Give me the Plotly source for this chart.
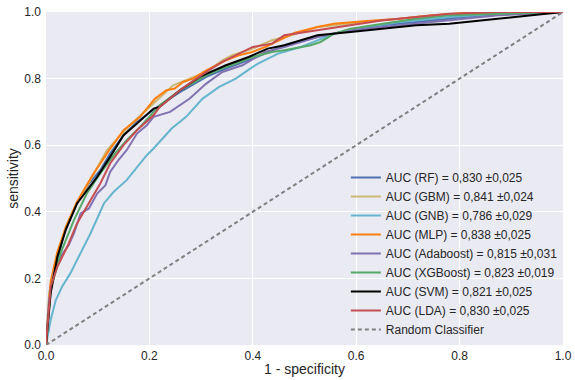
import plotly.graph_objects as go

# ROC curves (fpr, tpr)
rf_x = [0, 0.009, 0.035, 0.06, 0.083, 0.105, 0.124, 0.15, 0.176, 0.208, 0.22, 0.265, 0.31, 0.348, 0.4, 0.461, 0.525, 0.589, 0.652, 0.716, 0.811, 0.907, 1.0]
rf_y = [0, 0.175, 0.335, 0.425, 0.485, 0.525, 0.575, 0.63, 0.67, 0.705, 0.72, 0.765, 0.805, 0.83, 0.86, 0.90, 0.925, 0.945, 0.96, 0.97, 0.985, 0.995, 1.0]

gbm_x = [0, 0.006, 0.019, 0.038, 0.06, 0.092, 0.118, 0.144, 0.176, 0.208, 0.246, 0.31, 0.341, 0.36, 0.40, 0.437, 0.475, 0.525, 0.589, 0.652, 0.75, 0.85, 1.0]
gbm_y = [0, 0.155, 0.255, 0.355, 0.425, 0.515, 0.585, 0.63, 0.68, 0.725, 0.78, 0.82, 0.855, 0.87, 0.89, 0.915, 0.93, 0.955, 0.965, 0.975, 0.99, 0.997, 1.0]

gnb_x = [0, 0.009, 0.019, 0.031, 0.047, 0.067, 0.086, 0.112, 0.131, 0.156, 0.176, 0.195, 0.208, 0.243, 0.271, 0.303, 0.335, 0.367, 0.395, 0.41, 0.449, 0.493, 0.525, 0.557, 0.62, 0.684, 0.78, 0.875, 1.0]
gnb_y = [0, 0.075, 0.135, 0.175, 0.215, 0.275, 0.335, 0.425, 0.46, 0.495, 0.535, 0.57, 0.59, 0.65, 0.685, 0.74, 0.775, 0.80, 0.83, 0.845, 0.875, 0.895, 0.915, 0.935, 0.955, 0.97, 0.985, 0.995, 1.0]

mlp_x = [0, 0.009, 0.022, 0.04, 0.06, 0.09, 0.12, 0.15, 0.182, 0.211, 0.233, 0.249, 0.265, 0.284, 0.31, 0.348, 0.373, 0.399, 0.424, 0.45, 0.48, 0.525, 0.557, 0.62, 0.684, 0.748, 0.811, 0.875, 1.0]
mlp_y = [0, 0.19, 0.28, 0.36, 0.43, 0.51, 0.58, 0.645, 0.685, 0.74, 0.765, 0.77, 0.79, 0.80, 0.825, 0.855, 0.87, 0.88, 0.895, 0.915, 0.937, 0.955, 0.965, 0.973, 0.98, 0.99, 0.997, 1.0, 1.0]

ada_x = [0, 0.006, 0.015, 0.028, 0.044, 0.054, 0.067, 0.083, 0.099, 0.115, 0.124, 0.14, 0.156, 0.176, 0.195, 0.208, 0.24, 0.278, 0.31, 0.341, 0.38, 0.424, 0.461, 0.525, 0.589, 0.684, 0.78, 0.875, 0.97, 1.0]
ada_y = [0, 0.135, 0.215, 0.265, 0.30, 0.335, 0.395, 0.41, 0.455, 0.48, 0.52, 0.555, 0.585, 0.635, 0.66, 0.685, 0.70, 0.74, 0.785, 0.82, 0.84, 0.88, 0.895, 0.925, 0.945, 0.96, 0.975, 0.99, 0.997, 1.0]

xgb_x = [0, 0.009, 0.028, 0.054, 0.079, 0.105, 0.131, 0.156, 0.182, 0.208, 0.22, 0.259, 0.31, 0.348, 0.40, 0.437, 0.461, 0.512, 0.531, 0.557, 0.589, 0.652, 0.716, 0.78, 0.875, 1.0]
xgb_y = [0, 0.165, 0.275, 0.375, 0.455, 0.515, 0.57, 0.615, 0.655, 0.70, 0.72, 0.765, 0.81, 0.835, 0.865, 0.88, 0.885, 0.90, 0.91, 0.935, 0.95, 0.965, 0.98, 0.99, 0.995, 1.0]

svm_x = [0, 0.009, 0.022, 0.038, 0.06, 0.079, 0.099, 0.124, 0.15, 0.176, 0.208, 0.22, 0.259, 0.297, 0.348, 0.392, 0.429, 0.461, 0.493, 0.525, 0.589, 0.652, 0.716, 0.78, 0.843, 0.907, 0.958, 1.0]
svm_y = [0, 0.155, 0.265, 0.345, 0.425, 0.465, 0.505, 0.565, 0.63, 0.665, 0.71, 0.715, 0.765, 0.805, 0.84, 0.865, 0.89, 0.90, 0.915, 0.93, 0.94, 0.95, 0.96, 0.965, 0.975, 0.983, 0.993, 1.0]

lda_x = [0, 0.009, 0.022, 0.041, 0.06, 0.079, 0.105, 0.124, 0.15, 0.176, 0.208, 0.22, 0.259, 0.31, 0.341, 0.40, 0.437, 0.461, 0.525, 0.589, 0.652, 0.716, 0.78, 0.875, 1.0]
lda_y = [0, 0.175, 0.235, 0.295, 0.365, 0.415, 0.485, 0.545, 0.60, 0.645, 0.69, 0.715, 0.765, 0.82, 0.85, 0.895, 0.905, 0.93, 0.945, 0.96, 0.975, 0.985, 0.995, 1.0, 1.0]

names = ["AUC (RF) = 0,830 \u00b10,025", "AUC (GBM) = 0,841 \u00b10,024", "AUC (GNB) = 0,786 \u00b10,029",
         "AUC (MLP) = 0,838 \u00b10,025", "AUC (Adaboost) = 0,815 \u00b10,031", "AUC (XGBoost) = 0,823 \u00b10,019",
         "AUC (SVM) = 0,821 \u00b10,025", "AUC (LDA) = 0,830 \u00b10,025"]
xs = [rf_x, gbm_x, gnb_x, mlp_x, ada_x, xgb_x, svm_x, lda_x]
ys = [rf_y, gbm_y, gnb_y, mlp_y, ada_y, xgb_y, svm_y, lda_y]
colors = ["#4C72B0", "#CCB974", "#64B5CD", "#FF7F0E", "#8172B2", "#55A868", "#000000", "#C44E52"]

diag = [0.0, 1.0]

fig = go.Figure()
for n, x, y, c in zip(names, xs, ys, colors):
    fig.add_trace(go.Scatter(x=x, y=y, mode="lines", name=n, line=dict(color=c, width=2)))
fig.add_trace(go.Scatter(x=diag, y=diag, mode="lines", name="Random Classifier",
                         line=dict(color="#808080", width=2, dash="4px,3px")))

font_family = "Liberation Sans, Arial, sans-serif"
fig.update_layout(
    width=575, height=380,
    margin=dict(l=46, r=12, t=12, b=35, autoexpand=False),
    paper_bgcolor="white",
    plot_bgcolor="#EAEAF2",
    font=dict(family=font_family, size=12, color="#262626"),
    showlegend=True,
    legend=dict(x=0.580, y=0.003, xanchor="left", yanchor="bottom",
                bgcolor="rgba(0,0,0,0)", font=dict(size=12, color="#262626"),
                tracegroupgap=0, itemwidth=30),
    xaxis=dict(range=[0, 1], tickvals=[0, 0.2, 0.4, 0.6, 0.8, 1.0], tickformat=".1f",
               showgrid=True, gridcolor="white", gridwidth=1, zeroline=False,
               showline=False, ticks="", ticklen=0, automargin=False,
               ticklabelstandoff=2,
               title=dict(text="1 - specificity", font=dict(size=14), standoff=2),
               tickfont=dict(size=12)),
    yaxis=dict(range=[0, 1], tickvals=[0, 0.2, 0.4, 0.6, 0.8, 1.0], tickformat=".1f",
               showgrid=True, gridcolor="white", gridwidth=1, zeroline=False,
               showline=False, ticks="", ticklen=0, automargin=False,
               ticklabelstandoff=4,
               title=dict(text="sensitivity", font=dict(size=14), standoff=2),
               tickfont=dict(size=12)),
)

fig.write_html("out.html")
